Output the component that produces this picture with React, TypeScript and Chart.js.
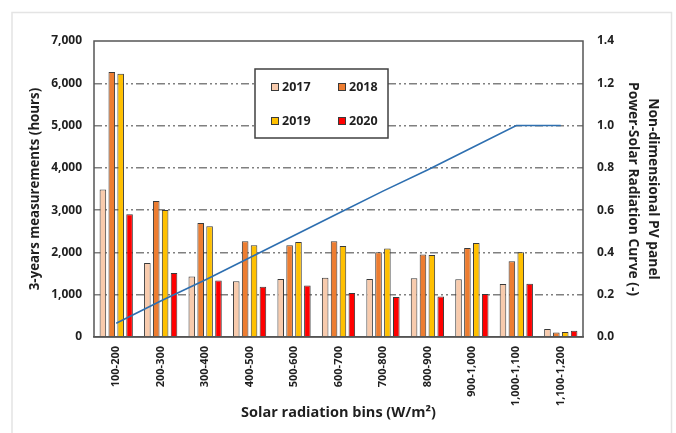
import React, { useEffect, useRef } from "react";
import { Chart, registerables } from "chart.js";

Chart.register(...registerables);

const categories = [
  "100-200", "200-300", "300-400", "400-500", "500-600", "600-700",
  "700-800", "800-900", "900-1,000", "1,000-1,100", "1,100-1,200",
];
const hours2017 = [3490, 1750, 1430, 1320, 1370, 1400, 1370, 1390, 1365, 1255, 190];
const hours2018 = [6265, 3215, 2695, 2265, 2170, 2265, 2005, 1950, 2105, 1790, 105];
const hours2019 = [6225, 3005, 2620, 2170, 2245, 2150, 2090, 1940, 2225, 2005, 120];
const hours2020 = [2900, 1515, 1335, 1190, 1220, 1040, 945, 955, 1015, 1260, 150];
const pvCurve = [0.065, 0.17, 0.27, 0.375, 0.48, 0.585, 0.69, 0.79, 0.895, 1.0, 1.0];
const leftTicks = [0, 1000, 2000, 3000, 4000, 5000, 6000, 7000];
const rightTicks = [0, 0.2, 0.4, 0.6, 0.8, 1.0, 1.2, 1.4];

const FONT = "'Open Sans', 'Noto Sans', sans-serif";
const TEXT = "#1f1f1f";
const FRAME = "#555555";

// Thin page frame, plot rectangle and boxed legend
const decorations = {
  id: "decorations",
  beforeDraw(chart: any) {
    const ctx = chart.ctx;
    ctx.save();
    ctx.fillStyle = "#ffffff";
    ctx.fillRect(0, 0, chart.width, chart.height);
    ctx.strokeStyle = "#e4e4e4";
    ctx.lineWidth = 1.5;
    ctx.strokeRect(12, 12.5, 659.5, 440);
    ctx.restore();
  },
  afterDraw(chart: any) {
    const ctx = chart.ctx;
    const a = chart.chartArea;
    ctx.save();
    ctx.strokeStyle = FRAME;
    ctx.lineWidth = 1.5;
    ctx.strokeRect(a.left, a.top, a.right - a.left, a.bottom - a.top);

    // legend box
    const bx = 255, by = 69, bw = 133, bh = 69;
    ctx.fillStyle = "#ffffff";
    ctx.fillRect(bx, by, bw, bh);
    ctx.strokeStyle = "#404040";
    ctx.lineWidth = 1.5;
    ctx.strokeRect(bx, by, bw, bh);

    const bars = chart.data.datasets.filter((d: any) => d.type === "bar");
    const cols = [271, 338];
    const rows = [87, 121];
    ctx.font = `bold 12.5px ${FONT}`;
    ctx.textBaseline = "middle";
    ctx.textAlign = "left";
    bars.forEach((d: any, i: number) => {
      const x = cols[i % 2];
      const y = rows[Math.floor(i / 2)];
      ctx.fillStyle = d.backgroundColor;
      ctx.fillRect(x, y - 4, 8, 8);
      ctx.strokeStyle = "#3a3a3a";
      ctx.lineWidth = 1;
      ctx.strokeRect(x + 0.5, y - 3.5, 7, 7);
      ctx.fillStyle = TEXT;
      ctx.fillText(d.label, x + 11, y + 0.5);
    });
    ctx.restore();
  },
};

export default function App() {
  const ref = useRef<HTMLCanvasElement | null>(null);

  useEffect(() => {
    if (!ref.current) return;
    const barStyle = {
      type: "bar" as const,
      yAxisID: "y",
      borderColor: "#3a3a3a",
      borderWidth: 1,
      categoryPercentage: 0.8,
      barPercentage: 0.74,
      order: 2,
    };
    const chart = new Chart(ref.current, {
      type: "bar",
      data: {
        labels: categories,
        datasets: [
          {
            type: "line",
            label: "PV curve",
            data: pvCurve,
            yAxisID: "y1",
            borderColor: "#2e6fb0",
            borderWidth: 1.6,
            pointRadius: 0,
            fill: false,
            tension: 0,
            order: 1,
          } as any,
          { ...barStyle, label: "2017", data: hours2017, backgroundColor: "#f8cbad" },
          { ...barStyle, label: "2018", data: hours2018, backgroundColor: "#ed7d31" },
          { ...barStyle, label: "2019", data: hours2019, backgroundColor: "#ffc000" },
          { ...barStyle, label: "2020", data: hours2020, backgroundColor: "#ff0000" },
        ],
      },
      options: {
        animation: false,
        responsive: false,
        devicePixelRatio: 1,
        layout: { padding: { top: 41, left: 0, right: 0, bottom: 0 } },
        plugins: {
          legend: { display: false },
          tooltip: { enabled: false },
        },
        scales: {
          x: {
            offset: true,
            grid: { display: false, drawTicks: false },
            border: { display: true, color: FRAME, width: 1.5 },
            ticks: {
              autoSkip: false,
              minRotation: 90,
              maxRotation: 90,
              padding: 9,
              color: TEXT,
              font: { family: FONT, size: 11, weight: "bold" },
            },
            title: {
              display: true,
              text: "Solar radiation bins (W/m²)",
              color: TEXT,
              font: { family: FONT, size: 14.5, weight: "bold", lineHeight: 1.4 },
              padding: { top: 0, bottom: 10 },
            },
            afterFit: (s: any) => { s.height = 96; },
          },
          y: {
            position: "left",
            min: 0,
            max: 7000,
            afterBuildTicks: (s: any) => { s.ticks = leftTicks.map((v) => ({ value: v })); },
            grid: {
              drawTicks: false,
              color: (c: any) =>
                c.tick && (c.tick.value === 0 || c.tick.value === 7000) ? "rgba(0,0,0,0)" : "#808080",
              lineWidth: 1.5,
            },
            border: { display: false, dash: [8, 3, 2, 3, 2, 3] },
            ticks: {
              padding: 12,
              color: TEXT,
              font: { family: FONT, size: 12, weight: "bold" },
              callback: (v: any) => Number(v).toLocaleString("en-US"),
            },
            title: {
              display: true,
              text: "3-years measurements (hours)",
              color: TEXT,
              font: { family: FONT, size: 13.3, weight: "bold", lineHeight: 1.4 },
              padding: { top: 26, bottom: 0 },
            },
            afterFit: (s: any) => { s.width = 94; },
          },
          y1: {
            position: "right",
            min: 0,
            max: 1.4,
            afterBuildTicks: (s: any) => { s.ticks = rightTicks.map((v) => ({ value: v })); },
            grid: { display: false, drawTicks: false },
            border: { display: false },
            ticks: {
              padding: 14,
              color: TEXT,
              font: { family: FONT, size: 12, weight: "bold" },
              callback: (v: any) => Number(v).toFixed(1),
            },
            title: {
              display: true,
              text: ["Non-dimensional PV panel", "Power-Solar Radiation Curve (-)"],
              color: TEXT,
              font: { family: FONT, size: 13.8, weight: "bold", lineHeight: 1.5 },
              padding: { top: 12.5, bottom: 0 },
            },
            afterFit: (s: any) => { s.width = 93; },
          },
        },
      },
      plugins: [decorations],
    });
    return () => chart.destroy();
  }, []);

  return (
    <div style={{ position: "fixed", left: 0, top: 0, width: 676, height: 433, background: "#fff" }}>
      <canvas ref={ref} width={676} height={433} style={{ width: 676, height: 433, display: "block" }} />
    </div>
  );
}
